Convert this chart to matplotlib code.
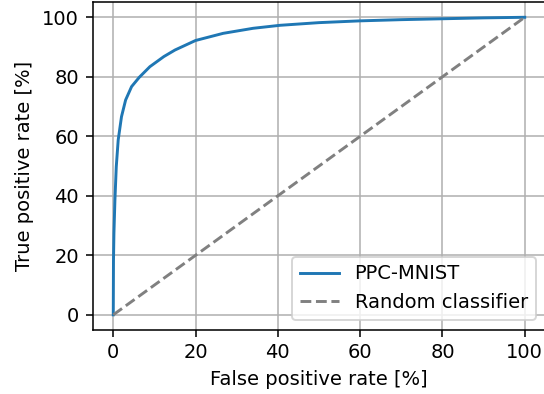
import matplotlib
matplotlib.use('Agg')
import matplotlib.pyplot as plt

# ROC curve (percent)
fpr = [0, 0.05, 0.16, 0.4, 0.73, 1.2, 2.0, 3.0, 4.45, 6.3, 8.9, 12.3, 15.0, 20, 26.7, 34, 40.5, 50, 60, 70, 80, 90, 100]
tpr = [0, 18, 27.4, 38.6, 49.8, 58.8, 66.6, 72.2, 76.7, 79.8, 83.4, 86.8, 89.0, 92.2, 94.6, 96.3, 97.3, 98.2, 98.8, 99.2, 99.5, 99.8, 100]
rand_x = [0, 100]
rand_y = [0, 100]

dpi = 140
fig = plt.figure(figsize=(544 / dpi, 394 / dpi), dpi=dpi)
ax = fig.add_axes([0.1704, 0.1632, 0.832, 0.8307])
ax.plot(fpr, tpr, color='#1f77b4', linewidth=1.5, label='PPC-MNIST')
ax.plot(rand_x, rand_y, '--', color='grey', linewidth=1.5, label='Random classifier')
ax.set_xlabel('False positive rate [%]')
ax.set_ylabel('True positive rate [%]')
ax.grid(True)
ax.set_axisbelow(True)
ax.legend(loc='lower right')
fig.savefig('out.png', dpi=dpi)
